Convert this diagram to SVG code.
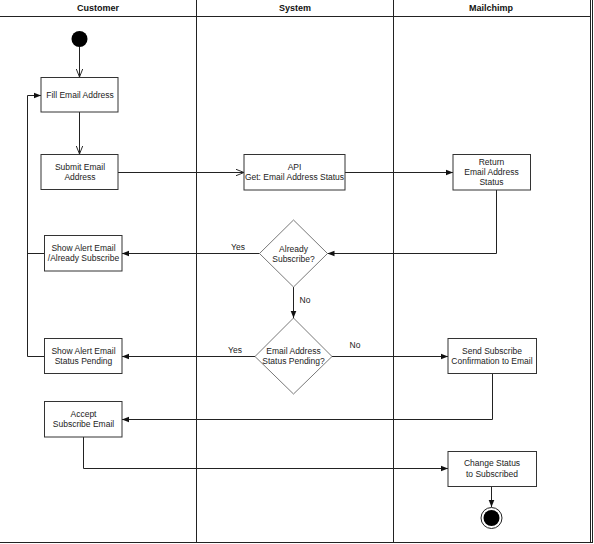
<svg xmlns="http://www.w3.org/2000/svg" width="594" height="544" viewBox="0 0 594 544">
<defs>
<style>
text{font-family:"Liberation Sans",Arial,sans-serif;font-size:8.5px;fill:#222;text-anchor:middle}
.hd{font-size:9px;font-weight:bold;fill:#111}
.box{fill:#fff;stroke:#333;stroke-width:1}
.dia{fill:#fff;stroke:#555;stroke-width:0.8}
.ln{fill:none;stroke:#222;stroke-width:1}
.lane{fill:none;stroke:#222;stroke-width:1}
</style>
<marker id="fa" viewBox="0 0 10 10" refX="10" refY="5" markerWidth="7" markerHeight="7" markerUnits="userSpaceOnUse" orient="auto"><path d="M0,1 L10,5 L0,9 Z" fill="#111"/></marker>
<marker id="oa" viewBox="0 0 10 10" refX="10" refY="5" markerWidth="8" markerHeight="8" markerUnits="userSpaceOnUse" orient="auto"><path d="M0,1 L10,5 L0,9" fill="none" stroke="#222" stroke-width="1.2"/></marker>
</defs>
<rect width="594" height="544" fill="#fff"/>
<g id="lanes">
<line class="lane" x1="0" y1="16.5" x2="591" y2="16.5"/>
<line class="lane" x1="196.5" y1="0" x2="196.5" y2="542"/>
<line class="lane" x1="393.5" y1="0" x2="393.5" y2="542"/>
<line class="lane" x1="590.5" y1="0" x2="590.5" y2="543"/>
<line class="lane" x1="592.5" y1="0" x2="592.5" y2="543"/>
<line class="lane" x1="0" y1="542.5" x2="593" y2="542.5"/>
<text class="hd" x="98" y="11">Customer</text>
<text class="hd" x="295" y="11">System</text>
<text class="hd" x="491" y="11">Mailchimp</text>
</g>
<g id="connectors">
<line class="ln" x1="79.5" y1="47" x2="79.5" y2="77" marker-end="url(#oa)"/>
<line class="ln" x1="79.5" y1="112" x2="79.5" y2="154" marker-end="url(#oa)"/>
<line class="ln" x1="118" y1="172.5" x2="244" y2="172.5" marker-end="url(#oa)"/>
<line class="ln" x1="345" y1="172.5" x2="453" y2="172.5" marker-end="url(#fa)"/>
<polyline class="ln" points="496.5,190 496.5,253.5 327.5,253.5" marker-end="url(#fa)"/>
<line class="ln" x1="259.5" y1="253.5" x2="122" y2="253.5" marker-end="url(#fa)"/>
<line class="ln" x1="293.5" y1="287" x2="293.5" y2="318" marker-end="url(#fa)"/>
<line class="ln" x1="255" y1="356.5" x2="122" y2="356.5" marker-end="url(#fa)"/>
<line class="ln" x1="332" y1="356.5" x2="448" y2="356.5" marker-end="url(#fa)"/>
<polyline class="ln" points="44,356.5 27.5,356.5 27.5,95.5 41,95.5" marker-end="url(#fa)"/>
<line class="ln" x1="44" y1="253.5" x2="27.5" y2="253.5"/>
<polyline class="ln" points="492.5,373 492.5,419.5 122,419.5" marker-end="url(#fa)"/>
<polyline class="ln" points="83.5,437 83.5,468.5 448,468.5" marker-end="url(#fa)"/>
<line class="ln" x1="491.5" y1="487" x2="491.5" y2="507" marker-end="url(#fa)"/>
<text x="238" y="250">Yes</text>
<text x="305" y="303">No</text>
<text x="235" y="353">Yes</text>
<text x="355" y="348">No</text>
</g>
<g id="start"><circle cx="79.5" cy="39" r="8" fill="#000"/></g>
<g id="fill"><rect class="box" x="41" y="77.5" width="77" height="34.5"/><text x="80" y="98">Fill Email Address</text></g>
<g id="submit"><rect class="box" x="41" y="154.5" width="77" height="35"/><text x="80" y="170">Submit Email</text><text x="80" y="180">Address</text></g>
<g id="api"><rect class="box" x="244" y="154.5" width="101" height="35.5"/><text x="294.5" y="170">API</text><text x="294.5" y="180">Get: Email Address Status</text></g>
<g id="return"><rect class="box" x="453" y="154.5" width="77.5" height="35.5"/><text x="491.5" y="165">Return</text><text x="491.5" y="175">Email Address</text><text x="491.5" y="185">Status</text></g>
<g id="already"><polygon class="dia" points="293.5,220 327.5,253.5 293.5,287 259.5,253.5"/><text x="293.5" y="252">Already</text><text x="293.5" y="262">Subscribe?</text></g>
<g id="alert1"><rect class="box" x="44.5" y="235.5" width="77.5" height="35.5"/><text x="83.5" y="251">Show Alert Email</text><text x="83.5" y="261">/Already Subscribe</text></g>
<g id="pending"><polygon class="dia" points="293.5,318 332,356.5 293.5,394 255,356.5"/><text x="293.5" y="354">Email Address</text><text x="293.5" y="364">Status Pending?</text></g>
<g id="alert2"><rect class="box" x="44.5" y="338.5" width="77.5" height="35"/><text x="83.5" y="354">Show Alert Email</text><text x="83.5" y="364">Status Pending</text></g>
<g id="send"><rect class="box" x="448" y="338.5" width="88.5" height="35"/><text x="492" y="354">Send Subscribe</text><text x="492" y="364">Confirmation to Email</text></g>
<g id="accept"><rect class="box" x="44.5" y="401.5" width="77.5" height="35.5"/><text x="83.5" y="417">Accept</text><text x="83.5" y="427">Subscribe Email</text></g>
<g id="change"><rect class="box" x="448" y="451.5" width="88.5" height="35"/><text x="492" y="466">Change Status</text><text x="492" y="477">to Subscribed</text></g>
<g id="end"><circle cx="491.5" cy="518" r="10.5" fill="#fff" stroke="#222" stroke-width="1"/><circle cx="491.5" cy="518" r="8" fill="#000"/></g>
</svg>
